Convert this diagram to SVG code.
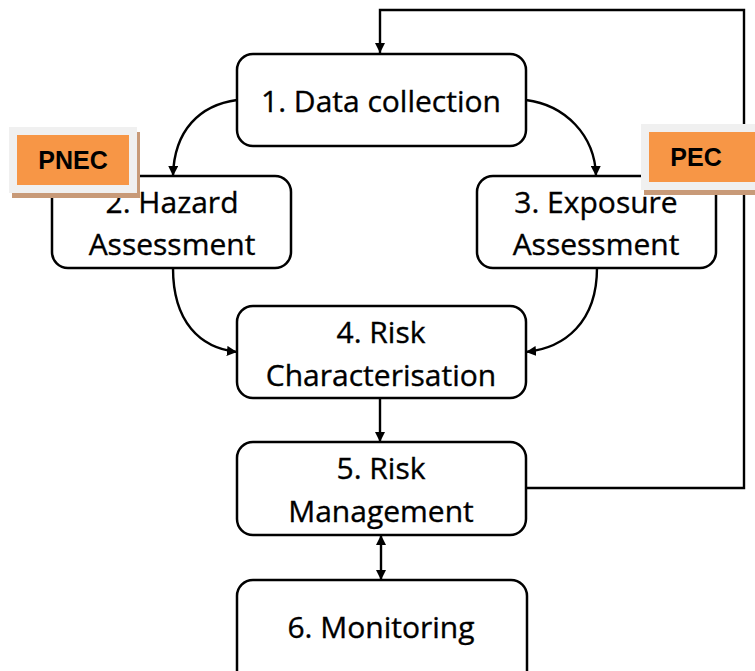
<svg xmlns="http://www.w3.org/2000/svg" width="755" height="671" viewBox="0 0 755 671">
<style>
.box{fill:#fff;stroke:#000;stroke-width:2.5}
.t{font-family:"Open Sans","Noto Sans",sans-serif;font-size:30px;fill:#000;stroke:#000;stroke-width:0.35;text-anchor:middle}
.c{fill:none;stroke:#000;stroke-width:2.4}
.lbl{font-family:"Liberation Sans",Arial,sans-serif;font-weight:bold;font-size:25px;fill:#000;text-anchor:middle}
</style>
<defs>
<marker id="ah" viewBox="0 0 10 10" refX="10" refY="5" markerWidth="4.2" markerHeight="4.2" orient="auto" markerUnits="strokeWidth">
<path d="M0,0 L10,5 L0,10 Z" fill="#000"/>
</marker>
<marker id="as" viewBox="0 0 10 10" refX="0" refY="5" markerWidth="4.2" markerHeight="4.2" orient="auto" markerUnits="strokeWidth">
<path d="M10,0 L0,5 L10,10 Z" fill="#000"/>
</marker>
</defs>
<rect width="755" height="671" fill="#fff"/>
<g id="connectors">
<path class="c" d="M526,488 H744 V10 H380 V53" marker-end="url(#ah)"/>
<path class="c" d="M237,100 C200,105 174,130 173,176" marker-end="url(#ah)"/>
<path class="c" d="M526,100 C565,105 595,135 596,176" marker-end="url(#ah)"/>
<path class="c" d="M173,268 C173,322 200,348 237,352" marker-end="url(#ah)"/>
<path class="c" d="M597,268 C597,322 565,348 526,352" marker-end="url(#ah)"/>
<path class="c" d="M380,398 V442" marker-end="url(#ah)"/>
<path class="c" d="M381,535 V580" marker-start="url(#as)" marker-end="url(#ah)"/>
</g>
<g id="n1"><rect class="box" x="237" y="54" width="289" height="92" rx="16"/><text class="t" x="381" y="112">1. Data collection</text></g>
<g id="n2"><rect class="box" x="52" y="176" width="239" height="92" rx="16"/><text class="t" x="172" y="213">2. Hazard</text><text class="t" x="172" y="255">Assessment</text></g>
<g id="n3"><rect class="box" x="477" y="176" width="239" height="92" rx="16"/><text class="t" x="596" y="213">3. Exposure</text><text class="t" x="596" y="255">Assessment</text></g>
<g id="n4"><rect class="box" x="237" y="306" width="289" height="92" rx="16"/><text class="t" x="381" y="343">4. Risk</text><text class="t" x="381" y="386">Characterisation</text></g>
<g id="n5"><rect class="box" x="237" y="442" width="289" height="93" rx="16"/><text class="t" x="381" y="479">5. Risk</text><text class="t" x="381" y="522">Management</text></g>
<g id="n6"><rect class="box" x="237" y="580" width="290" height="110" rx="16"/><text class="t" x="381" y="638">6. Monitoring</text></g>
<g id="pnec">
<rect x="12" y="132" width="128" height="66" fill="#c89a78"/>
<rect x="9" y="127" width="128" height="66" fill="#f0f0f0"/>
<rect x="17" y="135" width="112" height="50" fill="#f79646"/>
<text class="lbl" x="73" y="169">PNEC</text>
</g>
<g id="pec">
<rect x="644" y="129" width="120" height="66" fill="#c89a78"/>
<rect x="641" y="124" width="120" height="66" fill="#f0f0f0"/>
<rect x="649" y="132" width="110" height="50" fill="#f79646"/>
<text class="lbl" x="696" y="166">PEC</text>
</g>
</svg>
